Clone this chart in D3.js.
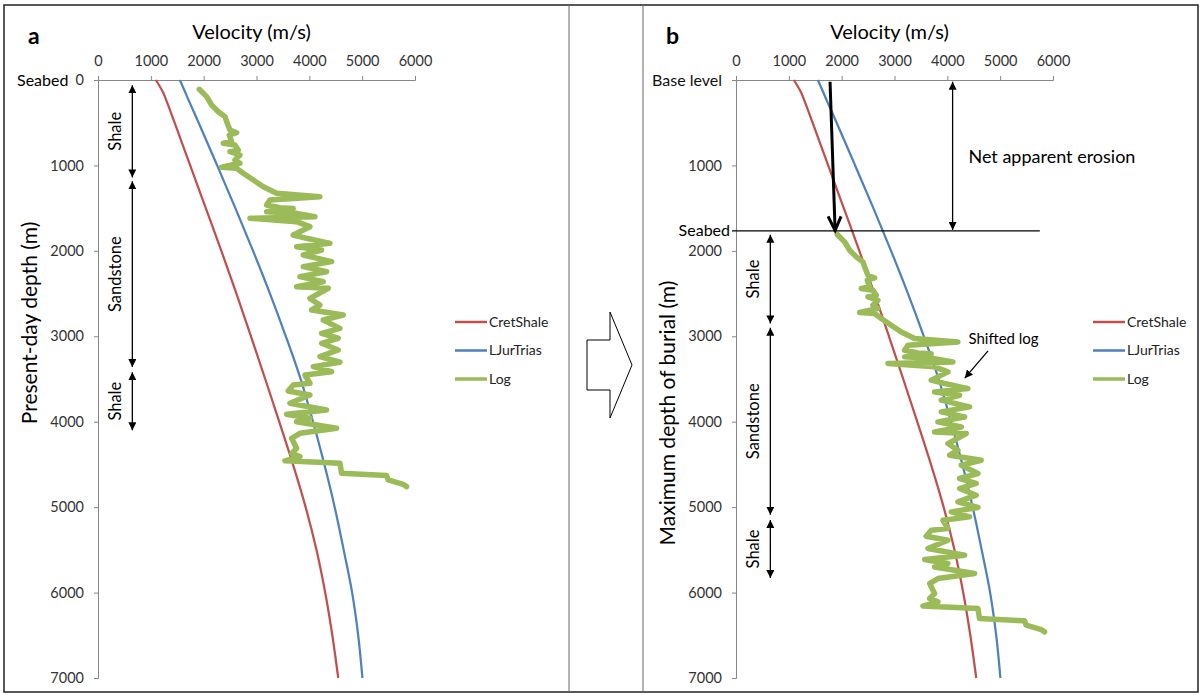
<!DOCTYPE html>
<html>
<head>
<meta charset="utf-8">
<script src="https://cdn.jsdelivr.net/npm/d3@7"></script>
<style>
body { margin: 0; background: #fff; }
text { font-family: Lato, "Open Sans", sans-serif; }
</style>
</head>
<body>
<script>
// axis ticks
var velTicks = [0, 1000, 2000, 3000, 4000, 5000, 6000];
var depthTicks = [0, 1000, 2000, 3000, 4000, 5000, 6000, 7000];

// trend curves (depth m -> velocity m/s)
var trendDepth = [0, 150, 250, 500, 1000, 1500, 2000, 2500, 3000, 3500, 4000, 4500, 5000, 5500, 6000, 6500, 7000];
var cretShale  = [1095, 1235, 1300, 1450, 1745, 2040, 2335, 2620, 2895, 3165, 3430, 3690, 3930, 4135, 4300, 4435, 4547];
var ljurTrias  = [1550, 1655, 1725, 1905, 2255, 2600, 2935, 3255, 3555, 3835, 4070, 4285, 4480, 4650, 4810, 4925, 5005];

// well log, present-day depth below seabed
var logDepth = [109, 195, 293, 371, 429, 507, 585, 617, 644, 722, 741, 761, 819, 839, 878, 936, 975, 1022, 1034, 1092,
  1170, 1249, 1326, 1366, 1405, 1463, 1495, 1505, 1541, 1561, 1600, 1619, 1658, 1717, 1814, 1853, 1912, 1951, 1990, 2048,
  2126, 2185, 2244, 2302, 2361, 2419, 2438, 2556, 2634, 2692, 2751, 2809, 2907, 2965, 3023, 3082, 3160, 3238, 3304, 3355,
  3414, 3453, 3550, 3570, 3640, 3687, 3784, 3863, 3913, 3960, 4000, 4077, 4136, 4194, 4311, 4370, 4409, 4458, 4487, 4604,
  4631, 4682, 4733, 4760];
var logVel = [1917, 2056, 2151, 2277, 2403, 2447, 2497, 2624, 2485, 2529, 2371, 2592, 2655, 2497, 2687, 2592, 2687, 2340, 2624, 2750,
  2939, 3128, 3381, 4200, 3254, 3191, 3443, 3695, 3191, 3759, 4106, 2876, 3759, 4011, 3695, 3948, 4389, 3759, 4232, 3885,
  4421, 3885, 4327, 3822, 4263, 3759, 4358, 4011, 4200, 4043, 4641, 4263, 4579, 4232, 4547, 4232, 4547, 4200, 4579, 4074,
  4421, 3917, 4011, 3695, 3600, 4011, 3633, 4327, 3570, 4011, 3759, 4516, 3822, 3665, 3759, 3665, 3822, 3538, 4579, 4610,
  5462, 5494, 5776, 5840];

var logShift = 1700;     // burial shift applied in panel b
var seabedB = 1765;      // seabed in panel b (maximum burial)

var seriesNames = ["CretShale", "LJurTrias", "Log"];
var colors = ["#C0504D", "#4F81BD", "#9BBB59"];

var stratA = [{name: "Shale", top: 60, base: 1140}, {name: "Sandstone", top: 1185, base: 3360}, {name: "Shale", top: 3420, base: 4100}];
var stratB = [{name: "Shale", top: 1810, base: 2850}, {name: "Sandstone", top: 2900, base: 5090}, {name: "Shale", top: 5150, base: 5830}];

var svg = d3.select("body").append("svg")
    .attr("width", 1201)
    .attr("height", 695);

var defs = svg.append("defs");
defs.append("marker")
    .attr("id", "tri")
    .attr("viewBox", "0 0 10 10")
    .attr("refX", 10).attr("refY", 5)
    .attr("markerUnits", "userSpaceOnUse")
    .attr("markerWidth", 8).attr("markerHeight", 8)
    .attr("orient", "auto-start-reverse")
  .append("path")
    .attr("d", "M0,0L10,5L0,10z")
    .attr("fill", "#000");

// frame
svg.append("rect")
    .attr("x", 4).attr("y", 5).attr("width", 1194).attr("height", 687)
    .attr("fill", "none").attr("stroke", "#222").attr("stroke-width", 1.5);
svg.append("line").attr("x1", 569).attr("x2", 569).attr("y1", 5).attr("y2", 692).attr("stroke", "#666");
svg.append("line").attr("x1", 643).attr("x2", 643).attr("y1", 5).attr("y2", 692).attr("stroke", "#666");

// hollow arrow between panels
svg.append("path")
    .attr("d", "M587,340L610,340L610,312L632,365L610,418L610,390L587,390Z")
    .attr("fill", "#fff").attr("stroke", "#000").attr("stroke-width", 1);

var y = d3.scaleLinear().domain([0, 7000]).range([80, 678]);
var xA = d3.scaleLinear().domain([0, 6000]).range([98, 415]);
var xB = d3.scaleLinear().domain([0, 6000]).range([736, 1053]);

var trend = function(vals) {
  return trendDepth.map(function(d, i) { return {d: d, v: vals[i]}; });
};
var logData = function(shift) {
  return logDepth.map(function(d, i) { return {d: d + shift, v: logVel[i]}; });
};

function drawPanel(x, shift, topLabel, letter, yTitle, yTitleY, legendX) {
  var g = svg.append("g");

  var xAxis = d3.axisTop(x).tickValues(velTicks).tickSize(4).tickPadding(10).tickFormat(d3.format("d"));
  var yAxis = d3.axisLeft(y).tickValues(depthTicks).tickSize(4).tickPadding(10)
      .tickFormat(function(d) { return d === 0 && topLabel ? topLabel : d; });

  var gx = g.append("g").attr("transform", "translate(0," + y(0) + ")").call(xAxis);
  var gy = g.append("g").attr("transform", "translate(" + x(0) + ",0)").call(yAxis);
  [gx, gy].forEach(function(a) {
    a.select(".domain").attr("stroke", "#868686");
    a.selectAll(".tick line").attr("stroke", "#868686");
    a.selectAll(".tick text").attr("fill", "#333").style("font-size", "14.5px").style("font-family", "Lato, sans-serif");
  });
  if (topLabel) gy.selectAll(".tick text").filter(function(d) { return d === 0; }).style("font-size", "16px").attr("fill", "#111");

  var curve = d3.line()
      .x(function(p) { return x(p.v); })
      .y(function(p) { return y(p.d); })
      .curve(d3.curveMonotoneY);
  var jag = d3.line()
      .x(function(p) { return x(p.v); })
      .y(function(p) { return y(p.d); });

  g.append("path").datum(trend(cretShale)).attr("d", curve)
      .attr("fill", "none").attr("stroke", colors[0]).attr("stroke-width", 2.25);
  g.append("path").datum(trend(ljurTrias)).attr("d", curve)
      .attr("fill", "none").attr("stroke", colors[1]).attr("stroke-width", 2.25);
  g.append("path").datum(logData(shift)).attr("d", jag)
      .attr("fill", "none").attr("stroke", colors[2]).attr("stroke-width", 5.5)
      .attr("stroke-linejoin", "round").attr("stroke-linecap", "round");

  // titles
  g.append("text").attr("x", x(0) - 70).attr("y", 44)
      .style("font-size", "23px").style("font-weight", "bold").text(letter);
  g.append("text").attr("x", (x(0) + x(6000)) / 2 - 5).attr("y", 39)
      .attr("text-anchor", "middle").style("font-size", "20px").text("Velocity (m/s)");
  g.append("text")
      .attr("transform", "translate(" + (x(0) - 68) + "," + yTitleY + ") rotate(-90)")
      .attr("text-anchor", "middle").attr("dy", "0.35em")
      .style("font-size", "21px").text(yTitle);

  // legend
  var leg = g.selectAll(".leg").data(seriesNames).enter().append("g")
      .attr("transform", function(d, i) { return "translate(" + legendX + "," + (322 + i * 28.5) + ")"; });
  leg.append("line").attr("x1", 0).attr("x2", 32)
      .attr("stroke", function(d, i) { return colors[i]; })
      .attr("stroke-width", function(d, i) { return i === 2 ? 3.5 : 2.5; });
  leg.append("text").attr("x", 34).attr("dy", "0.35em")
      .style("font-size", "14px").attr("fill", "#222").text(function(d) { return d; });

  return g;
}

function drawStrat(g, x, units) {
  var ax = x(650);
  units.forEach(function(u) {
    g.append("line")
        .attr("x1", ax).attr("x2", ax)
        .attr("y1", y(u.top)).attr("y2", y(u.base))
        .attr("stroke", "#000").attr("stroke-width", 1.3)
        .attr("marker-start", "url(#tri)").attr("marker-end", "url(#tri)");
    g.append("text")
        .attr("transform", "translate(" + (ax - 17) + "," + y((u.top + u.base) / 2) + ") rotate(-90)")
        .attr("text-anchor", "middle").attr("dy", "0.35em")
        .style("font-size", "16.5px").text(u.name);
  });
}

var gA = drawPanel(xA, 0, null, "a", "Present-day depth (m)", 323, 455);
gA.append("text").attr("x", 17).attr("y", y(0)).attr("dy", "0.35em")
    .style("font-size", "16px").text("Seabed");
drawStrat(gA, xA, stratA);

var gB = drawPanel(xB, logShift, "Base level", "b", "Maximum depth of burial (m)", 413, 1093);
drawStrat(gB, xB, stratB);

// seabed line at maximum burial
gB.append("line")
    .attr("x1", xB(0) - 4).attr("x2", xB(5750))
    .attr("y1", y(seabedB)).attr("y2", y(seabedB))
    .attr("stroke", "#000").attr("stroke-width", 1.3);
gB.append("text").attr("x", xB(0) - 6).attr("y", y(seabedB)).attr("dy", "0.35em")
    .attr("text-anchor", "end").style("font-size", "16px").text("Seabed");

// net apparent erosion
gB.append("line")
    .attr("x1", xB(4100)).attr("x2", xB(4100))
    .attr("y1", y(20)).attr("y2", y(seabedB - 10))
    .attr("stroke", "#000").attr("stroke-width", 1.3)
    .attr("marker-start", "url(#tri)").attr("marker-end", "url(#tri)");
gB.append("text").attr("x", xB(4400)).attr("y", y(900)).attr("dy", "0.35em")
    .style("font-size", "18px").text("Net apparent erosion");

// thick shift arrow
var tipX = xB(1875), tipY = y(seabedB - 5);
gB.append("line")
    .attr("x1", xB(1780)).attr("y1", y(20)).attr("x2", tipX).attr("y2", tipY - 1)
    .attr("stroke", "#000").attr("stroke-width", 3);
gB.append("path")
    .attr("d", "M" + (tipX - 7) + "," + (tipY - 14) + "L" + tipX + "," + tipY + "L" + (tipX + 6) + "," + (tipY - 14))
    .attr("fill", "none").attr("stroke", "#000").attr("stroke-width", 3).attr("stroke-linejoin", "miter");

// shifted log pointer
gB.append("line")
    .attr("x1", xB(4770)).attr("y1", y(3170))
    .attr("x2", xB(4330)).attr("y2", y(3490))
    .attr("stroke", "#000").attr("stroke-width", 1.3)
    .attr("marker-end", "url(#tri)");
gB.append("text").attr("x", xB(4400)).attr("y", y(3030)).attr("dy", "0.35em")
    .style("font-size", "15px").text("Shifted log");
</script>
</body>
</html>
